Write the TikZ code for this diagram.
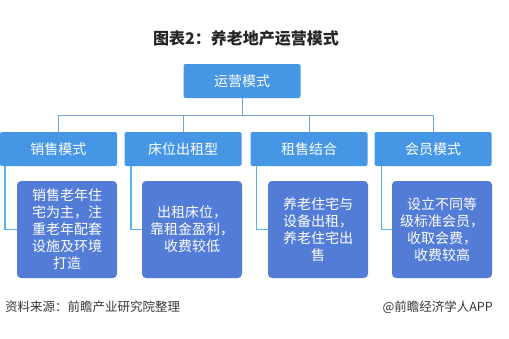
\documentclass[tikz,border=0pt]{standalone}
\usepackage{fontspec}
\setmainfont{Noto Sans CJK SC}
\usetikzlibrary{calc,positioning}
\definecolor{hdblue}{RGB}{69,151,230}
\definecolor{bodyblue}{RGB}{82,124,214}
\definecolor{linkblue}{RGB}{120,165,215}
\definecolor{brkblue}{RGB}{80,180,240}
\definecolor{srcgray}{RGB}{55,55,55}
\tikzset{hdbox/.style={fill=hdblue,rounded corners=2pt,text=white,minimum width=117pt,minimum height=34pt,inner sep=0pt,font=\fontsize{14}{16}\selectfont},
  descbox/.style={fill=bodyblue,rounded corners=4pt,text=white,align=center,minimum width=100pt,minimum height=97pt,inner sep=0pt,font=\fontsize{14}{17}\selectfont},
  link/.style={draw=linkblue,line width=1pt},
  brk/.style={draw=brkblue,line width=1.6pt}}
\begin{document}
\begin{tikzpicture}[x=1pt,y=-1pt,
  src/.style={text=srcgray,inner sep=0pt,font=\fontsize{12.5}{14}\selectfont}]
\useasboundingbox (0,0) rectangle (509,338);
\node[font=\fontsize{16}{18}\selectfont\bfseries,text=black!85] (title) at (246,38) {图表2：养老地产运营模式};
\node[hdbox] (top) at (242,81) {运营模式};
\node[hdbox] (m1) at (58.5,149) {销售模式};
\node[hdbox] (m2) at (183,149) {床位出租型};
\node[hdbox] (m3) at (309,149) {租售结合};
\node[hdbox] (m4) at (433,149) {会员模式};
\node[descbox] (d1) at (67,229.5) {销售老年住\\宅为主，注\\重老年配套\\设施及环境\\打造};
\node[descbox] (d2) at (192,229.5) {出租床位，\\靠租金盈利，\\收费较低};
\node[descbox] (d3) at (318,229.5) {养老住宅与\\设备出租，\\养老住宅出\\售};
\node[descbox] (d4) at (442,229.5) {设立不同等\\级标准会员，\\收取会费，\\收费较高};
\coordinate (bus) at (242,115.5);
\draw[link] (top.south) -- (bus);
\draw[link] (m1.north) -- (m1.north |- bus) -- (m4.north |- bus) -- (m4.north);
\draw[link] (m2.north) -- (m2.north |- bus);
\draw[link] (m3.north) -- (m3.north |- bus);
\draw[brk] ([xshift=5pt]m1.south west) |- (d1.west);
\draw[brk] ([xshift=6.5pt]m2.south west) |- (d2.west);
\draw[brk] ([xshift=6pt]m3.south west) |- (d3.west);
\draw[brk] ([xshift=7pt]m4.south west) |- (d4.west);
\node[src,anchor=west] (note) at (5,307) {资料来源：前瞻产业研究院整理};
\node[src,anchor=east] (brand) at (493,307) {@前瞻经济学人APP};
\end{tikzpicture}
\end{document}
